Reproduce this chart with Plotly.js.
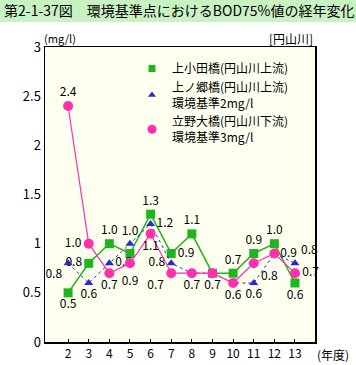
<!DOCTYPE html>
<html><head><meta charset="utf-8">
<script src="https://cdn.plot.ly/plotly-3.0.1.min.js"></script>
<style>html,body{margin:0;padding:0;background:#fff}#c{width:356px;height:365px}</style>
</head><body><div id="c"></div>
<script>
const years = [2,3,4,5,6,7,8,9,10,11,12,13];
const yearLabels = ['2','3','4','5','6','7','8','9','10','11','12','13'];
const kamiOda = [0.5,0.8,1.0,0.9,1.3,0.9,1.1,0.7,0.7,0.9,1.0,0.6];
const kamiNoGo = [0.8,0.6,0.8,1.0,1.2,0.8,0.7,0.7,0.6,0.6,0.9,0.8];
const tatenoOhashi = [2.4,1.0,0.7,0.8,1.1,0.7,0.7,0.7,0.6,0.8,0.9,0.7];
const kamiOdaText = ['0.5','0.8','1.0','<br>0.9','1.3','0.9','1.1','','0.7','0.9','1.0','0.6'];
const kamiNoGoText = ['0.8','0.6','0.8','1.0','1.2','0.8','','','','0.6','0.9','0.8'];
const tatenoText = ['2.4','1.0','0.7','','1.1','0.7','0.7','0.7','0.6','0.8','','0.7'];
const names = ['上小田橋(円山川上流)','上ノ郷橋(円山川上流)<br>環境基準2mg/l','立野大橋(円山川下流)<br>環境基準3mg/l'];

const GREEN='#1fb51f', BLUE='#2a2acb', PINK='#ff2fae';
const tf = {family:'Noto Sans CJK JP, sans-serif', size:12, color:'#000'};
const greenPos=['bottom center','middle left','top center','bottom center','top center','middle right','top center','top center','top center','top center','top center','bottom center'];
const bluePos=['bottom left','bottom center','middle right','top center','middle right','middle left','top center','top center','top center','bottom center','middle right','top right'];
const pinkPos=['top center','middle left','bottom center','top center','bottom center','bottom left','bottom center','bottom center','bottom center','bottom right','top center','middle right'];

const traces = [
 {x:years,y:kamiOda,mode:'lines+markers+text',text:kamiOdaText,textposition:greenPos,textfont:tf,
  line:{color:GREEN,width:1.5},marker:{symbol:'square',size:9,color:GREEN},showlegend:false,cliponaxis:false},
 {x:years,y:kamiNoGo,mode:'lines+markers+text',text:kamiNoGoText,textposition:bluePos,textfont:tf,
  line:{color:BLUE,width:1,dash:'dot'},marker:{symbol:'triangle-up',size:8,color:BLUE},showlegend:false,cliponaxis:false},
 {x:years,y:tatenoOhashi,mode:'lines+markers+text',text:tatenoText,textposition:pinkPos,textfont:tf,
  line:{color:PINK,width:1.2},marker:{symbol:'circle',size:10,color:PINK},showlegend:false,cliponaxis:false},
 {x:[null],y:[null],mode:'markers',name:names[0],marker:{symbol:'square',size:7,color:GREEN}},
 {x:[null],y:[null],mode:'markers',name:names[1],marker:{symbol:'triangle-up',size:7,color:BLUE}},
 {x:[null],y:[null],mode:'markers',name:names[2],marker:{symbol:'circle',size:9,color:PINK}}
];
const L=45,R=41,T=47,B=23,W=356-L-R,H=365-T-B;
const layout = {
 width:356,height:365,margin:{l:L,r:R,t:T,b:B},
 paper_bgcolor:'#ffffff',plot_bgcolor:'#fffff0',
 font:{family:'Noto Sans CJK JP, sans-serif',size:12,color:'#000'},
 title:{text:'第2-1-37図　環境基準点におけるBOD75%値の経年変化',x:4/356,xanchor:'left',y:1-11/365,yanchor:'middle',
   font:{family:'Noto Sans CJK JP, sans-serif',size:14,color:'#000'}},
 xaxis:{range:[0.88,13.97],tickvals:years,ticktext:yearLabels,showgrid:false,zeroline:false,
   showline:true,linecolor:'#000',linewidth:1.5,mirror:true,ticks:'inside',ticklen:3,tickcolor:'#000',
   tickfont:{size:12},fixedrange:true},
 yaxis:{range:[0,3],dtick:0.5,showgrid:false,zeroline:false,showline:true,linecolor:'#000',linewidth:1.5,mirror:true,
   ticks:'',tickfont:{size:13},fixedrange:true},
 legend:{x:(132-L)/W,y:1-(54-T)/H,xanchor:'left',yanchor:'top',bgcolor:'rgba(0,0,0,0)',
   font:{size:12},tracegroupgap:0,itemwidth:30,traceorder:'normal'},
 shapes:[{type:'rect',xref:'paper',yref:'paper',x0:-L/W,x1:(356-L)/W,y0:1+(T-22)/H,y1:1+T/H,
   fillcolor:'#c9f2c3',line:{width:0},layer:'below'}],
 annotations:[
  {text:'(mg/l)',xref:'paper',yref:'paper',x:-3/W,y:1+9/H,xanchor:'left',yanchor:'middle',showarrow:false,font:{size:11}},
  {text:'[円山川]',xref:'paper',yref:'paper',x:1,y:1+9/H,xanchor:'right',yanchor:'middle',showarrow:false,font:{size:12}},
  {text:'(年度)',xref:'paper',yref:'paper',x:1,y:-12/H,xanchor:'left',yanchor:'middle',showarrow:false,font:{size:12}}
 ]
};
Plotly.newPlot('c',traces,layout,{displayModeBar:false,staticPlot:true});
</script></body></html>
